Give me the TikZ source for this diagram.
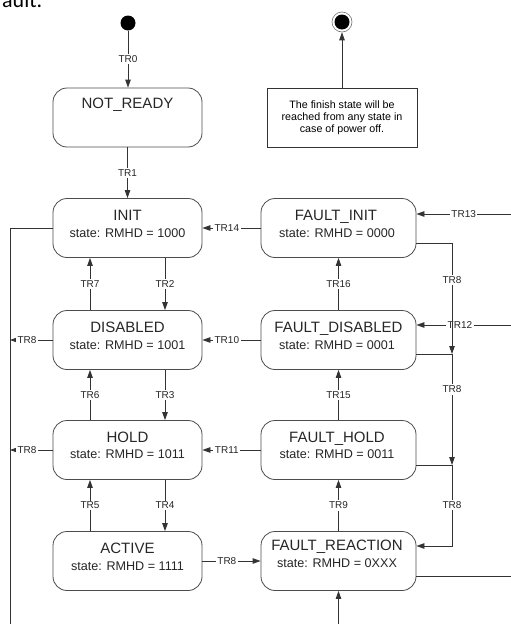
\documentclass[tikz,border=0pt]{standalone}
\usepackage{fontspec}
\setmainfont{Liberation Sans}
\newfontfamily\calib{Carlito}
\usetikzlibrary{arrows.meta}
\begin{document}
\begin{tikzpicture}[x=1pt,y=-1pt,
  stbox/.style={draw=black!70, line width=0.8pt, rounded corners=14pt, minimum width=149pt, minimum height=59pt, inner sep=0pt},
  fbox/.style={stbox, minimum width=155pt},
  sname/.style={font=\fontsize{15}{15}\selectfont, inner sep=0pt, anchor=base, text=black!85},
  sinfo/.style={font=\fontsize{12.6}{13}\selectfont, inner sep=0pt, anchor=base, text=black!85},
  lbl/.style={fill=white, font=\fontsize{10}{10}\selectfont, inner sep=1.5pt, text=black!85},
  conn/.style={draw=black!80, line width=0.8pt},
  arr/.style={conn, -{Triangle[length=8pt,width=5.5pt]}}]
\useasboundingbox (0,0) rectangle (511,624);
\clip (0,0) rectangle (511,624);
% cut-off text at top
\node[font=\calib\fontsize{22}{22}\selectfont, anchor=base west, inner sep=0pt] (cut) at (2,7) {ault.};
% start and final
\node[circle, fill=black, minimum size=15pt, inner sep=0pt] (start) at (128,23) {};
\node[circle, draw=black!55, fill=white, line width=0.6pt, minimum size=20pt, inner sep=0pt] (fin) at (342,22) {};
\node[circle, fill=black, minimum size=15pt, inner sep=0pt] (fincore) at (342,22) {};
% note
\node[draw=black!80, line width=0.8pt, minimum width=150pt, minimum height=59pt, align=center,
      font=\fontsize{10.7}{12}\selectfont, inner sep=0pt] (note) at (342,117.5)
  {The finish state will be\\reached from any state in\\case of power off.};
% left column boxes
\node[stbox] (nr) at (127.5,117.5) {};
\node[sname] (nrN) at (127.5,108) {NOT\_READY};
\node[stbox] (init) at (127.5,228) {};
\node[sname] (initN) at (127.5,220.5) {INIT};
\node[sinfo] (initS) at (127.5,237.5) {state: RMHD = 1000};
\node[stbox] (dis) at (127.5,340) {};
\node[sname] (disN) at (127.5,332.5) {DISABLED};
\node[sinfo] (disS) at (127.5,349.5) {state: RMHD = 1001};
\node[stbox] (hold) at (127.5,450) {};
\node[sname] (holdN) at (127.5,442.5) {HOLD};
\node[sinfo] (holdS) at (127.5,458.5) {state: RMHD = 1011};
\node[stbox] (act) at (127.5,561) {};
\node[sname] (actN) at (127.5,553.5) {ACTIVE};
\node[sinfo] (actS) at (127.5,570.5) {state: RMHD = 1111};
% right column boxes
\node[fbox] (fi) at (338.5,228) {};
\node[sname] (fiN) at (336,220.5) {FAULT\_INIT};
\node[sinfo] (fiS) at (337,237.5) {state: RMHD = 0000};
\node[fbox] (fd) at (338.5,340) {};
\node[sname] (fdN) at (338.5,332.5) {FAULT\_DISABLED};
\node[sinfo] (fdS) at (337,349.5) {state: RMHD = 0001};
\node[fbox] (fh) at (338.5,450) {};
\node[sname] (fhN) at (337,442.5) {FAULT\_HOLD};
\node[sinfo] (fhS) at (337,458.5) {state: RMHD = 0011};
\node[fbox] (fr) at (338.5,561) {};
\node[sname] (frN) at (337,550.5) {FAULT\_REACTION};
\node[sinfo] (frS) at (337,567.5) {state: RMHD = 0XXX};
% helper coordinates
\coordinate (xa) at (90,0);
\coordinate (xb) at (165,0);
\coordinate (lt) at (10,228);
\coordinate (lb) at (10,624);
\coordinate (l1) at (10,340);
\coordinate (l2) at (10,450);
\coordinate (e13) at (511,214);
\coordinate (e12) at (511,325);
\coordinate (e576) at (511,576);
\coordinate (r0) at (452,243);
\coordinate (j1) at (452,354);
\coordinate (j2) at (452,465);
\coordinate (r3) at (452,546);
\coordinate (b9) at (338.5,624);
% connectors: top
\draw[arr] (start.south) -- node[lbl]{TR0} (start.south |- nr.north);
\draw[arr] (nr.south) -- node[lbl]{TR1} (init.north);
\draw[arr] (fin.south |- note.north) -- (fin.south);
% left column verticals
\draw[arr] (xb |- init.south) -- node[lbl]{TR2} (xb |- dis.north);
\draw[arr] (xa |- dis.north) -- node[lbl]{TR7} (xa |- init.south);
\draw[arr] (xb |- dis.south) -- node[lbl]{TR3} (xb |- hold.north);
\draw[arr] (xa |- hold.north) -- node[lbl]{TR6} (xa |- dis.south);
\draw[arr] (xb |- hold.south) -- node[lbl]{TR4} (xb |- act.north);
\draw[arr] (xa |- act.north) -- node[lbl]{TR5} (xa |- hold.south);
% right column verticals
\draw[arr] (fd.north) -- node[lbl]{TR16} (fi.south);
\draw[arr] (fh.north) -- node[lbl]{TR15} (fd.south);
\draw[arr] (fr.north) -- node[lbl]{TR9} (fh.south);
\draw[arr] (b9) -- (fr.south);
% horizontals between columns
\draw[arr] (fi.west) -- node[lbl,pos=0.58]{TR14} (init.east);
\draw[arr] (fd.west) -- node[lbl,pos=0.58]{TR10} (dis.east);
\draw[arr] (fh.west) -- node[lbl,pos=0.58]{TR11} (hold.east);
\draw[arr] (act.east) -- node[lbl,pos=0.42]{TR8} (fr.west);
% left bus
\draw[conn] (init.west) -- (lt) -- (lb);
\draw[arr] (dis.west) -- node[lbl,pos=0.6]{TR8} (l1);
\draw[arr] (hold.west) -- node[lbl,pos=0.6]{TR8} (l2);
% right side
\draw[arr] (e13) -- node[lbl]{TR13} (e13 -| fi.east);
\draw[arr] (e12) -- node[lbl,pos=0.54]{TR12} (e12 -| fd.east);
\draw[conn] (e576 -| fr.east) -- (e576);
\draw[conn] (r0 -| fi.east) -- (r0);
\draw[arr] (r0) -- node[lbl,pos=0.33]{TR8} (j1);
\draw[conn] (j1 -| fd.east) -- (j1);
\draw[arr] (j1) -- node[lbl,pos=0.32]{TR8} (j2);
\draw[conn] (j2 -| fh.east) -- (j2);
\draw[arr] (j2) -- node[lbl,pos=0.49]{TR8} (r3) -- (r3 -| fr.east);
\end{tikzpicture}
\end{document}
